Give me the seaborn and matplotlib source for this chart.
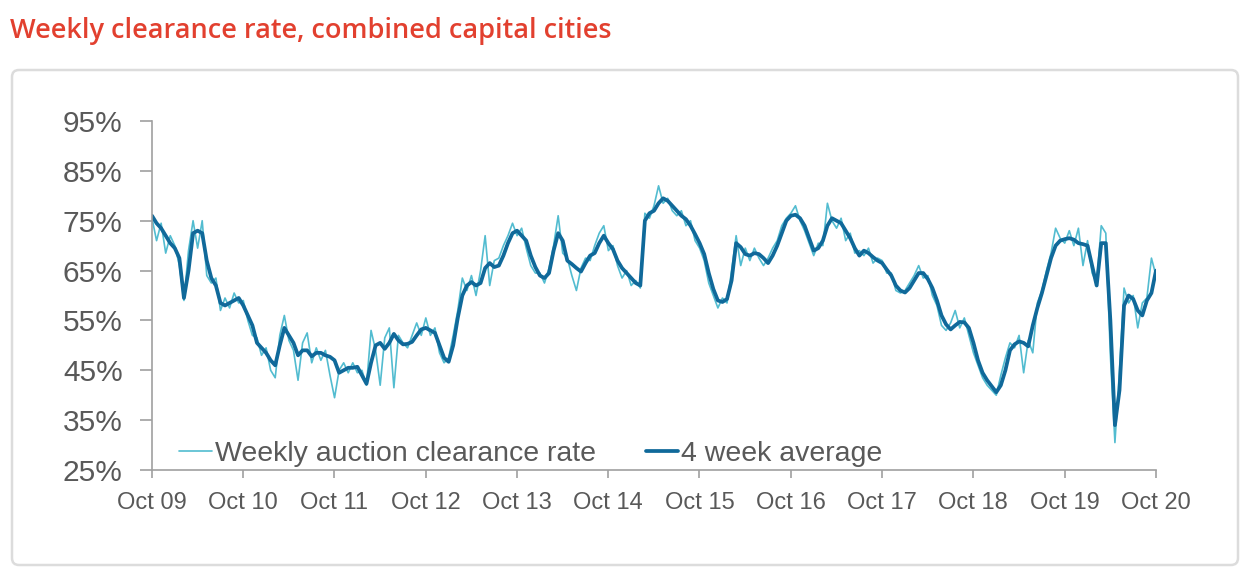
import matplotlib
matplotlib.use("Agg")
import matplotlib.pyplot as plt
import matplotlib.patches as mpatches
import matplotlib.transforms as mtransforms
import matplotlib.dates as mdates
import pandas as pd
import seaborn as sns

# Values, one point roughly every 18 days from Oct 2009 to Oct 2020
# (20 points per year, one line per year)
avg_rate = [
    76, 74.5, 73.5, 72, 70.5, 69.5, 67.5, 59.5, 65, 72.5, 73, 72.5, 67, 63.5, 62, 58.5, 58, 58.5, 59, 59.5,
    58, 56, 54, 50.5, 49.5, 48.5, 47, 46, 50, 53.5, 52, 50.5, 48, 49, 49, 47.8, 48.5, 48.5, 48, 47.7,
    47, 44.5, 45, 45.5, 45.5, 45.7, 44, 42.3, 46.5, 50, 50.5, 49.3, 50.5, 52.3, 51, 50.2, 50.3, 50.7, 52, 53.2,
    53.5, 53, 52.5, 50, 47.5, 46.7, 50, 55.5, 60, 62, 62.7, 62, 62.5, 65.5, 66.5, 65.7, 66, 68, 70.5, 72.5,
    73, 72, 71, 68, 65.7, 64, 63.5, 64.5, 69, 72.5, 71, 67, 66.3, 65.5, 64.8, 66.5, 68, 68.5, 70.5, 72,
    70.5, 69.3, 67, 65.5, 64.5, 63.5, 62.5, 62, 75, 76.5, 77, 78.5, 79.5, 79, 78, 77, 76, 75.3, 74, 72.3,
    70.5, 68.3, 64.5, 61.3, 59, 58.7, 59.3, 63, 70.5, 69.7, 68.3, 68, 68.5, 68.3, 67.5, 66.5, 68, 70, 72.5, 75,
    76, 76.2, 75.5, 74, 71.5, 69, 69.5, 71, 74, 75.5, 75, 74.5, 73, 71.5, 69.5, 68, 69, 68.5, 67.7, 67,
    66.5, 65.2, 64, 62, 61, 60.6, 61.5, 63, 64.5, 64.5, 63.3, 61.5, 59, 56, 54.2, 53.2, 54, 54.7, 54.6, 53.5,
    50.5, 47, 44.5, 43, 41.8, 40.6, 42, 45, 49, 50.2, 50.8, 50.5, 49.8, 54, 57.5, 60.5, 64, 67.5, 70, 71,
    71.3, 71.5, 71.2, 70.5, 70.3, 70, 66, 62, 70.5, 70.5, 55, 34, 41, 58, 60, 59.3, 57, 56, 59, 60.5,
    65,
]

weekly_rate = [
    75.5, 71, 74.5, 68.5, 72, 70, 66, 59, 69, 75, 69.5, 75, 64, 62.5, 63.5, 57, 59.5, 57.5, 60.5, 58.5,
    59, 55, 52, 51.5, 48, 49.5, 45, 43.5, 52, 56, 51, 49, 43, 50.5, 52.5, 46.5, 49.5, 47, 49, 44,
    39.5, 45, 46.5, 44.5, 46.5, 44.5, 45, 42, 53, 49, 42, 51.5, 53.5, 41.5, 52, 50.5, 49.5, 52, 54.5, 52,
    55.5, 52, 53.5, 48.5, 46.5, 47.5, 52, 57, 63.5, 61, 64, 60, 65, 72, 62, 67, 67.5, 70, 72, 74.5,
    72, 73.5, 69.5, 66, 64.5, 64.5, 62.5, 65.5, 70, 76, 68.5, 67.5, 64, 61, 65.5, 67.5, 67, 70, 72.5, 74,
    69, 70, 66, 63.5, 65, 62, 63, 61.5, 76.5, 75.5, 78, 82, 78.5, 79.5, 77, 76, 77, 74, 75, 71,
    69.5, 67, 62.5, 60, 57.5, 59.5, 58.5, 65, 72, 66, 69.5, 67, 69.5, 67.5, 66, 67.5, 69.5, 71, 74, 75.5,
    76.5, 78, 75, 73, 70.5, 68, 70.5, 70, 78.5, 75, 73.5, 75.5, 71, 72.5, 68.5, 69, 68, 69.5, 66.5, 67.5,
    67, 64.5, 64.5, 61, 60.5, 61, 62.5, 64, 66, 63.5, 64, 60, 58, 54, 53, 54.5, 57, 53.5, 55.5, 52,
    48.5, 46, 43.5, 42, 41, 40, 44, 47.5, 50.5, 49.5, 52, 44.5, 51, 48.5, 58.5, 61, 65, 68.5, 73.5, 71.5,
    70.5, 73, 70, 73.5, 66, 71, 64.5, 62.5, 74, 72.5, 48, 30.5, 45, 61.5, 58.5, 60, 53.5, 58.5, 59.5, 67.5,
    64,
]

dates = pd.date_range("2009-10-01", "2020-10-01", periods=len(avg_rate))
year_ticks = pd.date_range("2009-10-01", "2020-10-01", freq="12MS")
y_ticks = [25, 35, 45, 55, 65, 75, 85, 95]

df = pd.DataFrame({"date": dates, "weekly": weekly_rate, "avg": avg_rate})

sns.set_style("white")
plt.rcParams["font.family"] = ["Liberation Sans", "DejaVu Sans"]

fig = plt.figure(figsize=(12.57, 5.88), dpi=100)
ax = fig.add_axes([152 / 1257, 1 - 470 / 588, 1004 / 1257, 349 / 588])

sns.lineplot(data=df, x="date", y="weekly", ax=ax, color="#52bcd0", linewidth=1.2,
             label="Weekly auction clearance rate")
sns.lineplot(data=df, x="date", y="avg", ax=ax, color="#10699a", linewidth=2.7,
             label="4 week average")

ax.set_xlim(dates[0], dates[-1])
ax.set_ylim(25, 95)
ax.set_yticks(y_ticks)
ax.set_yticklabels([f"{v}%" for v in y_ticks])
ax.set_xticks(year_ticks)
ax.xaxis.set_major_formatter(mdates.DateFormatter("%b %y"))
ax.set_xlabel("")
ax.set_ylabel("")

for side in ["top", "right"]:
    ax.spines[side].set_visible(False)
for side in ["left", "bottom"]:
    ax.spines[side].set_color("#a0a0a0")
    ax.spines[side].set_linewidth(1.2)

ax.tick_params(axis="y", length=9, width=1.2, color="#a0a0a0", pad=12,
               labelsize=21.5, labelcolor="#595959")
ax.tick_params(axis="x", length=6, width=1.2, color="#a0a0a0", pad=10,
               labelsize=17, labelcolor="#595959", direction="out")
ax.tick_params(left=True, bottom=True)

ax.legend(loc="center left", bbox_to_anchor=(0.013, 0.045), ncol=2, frameon=False,
          fontsize=20.5, handlelength=1.15, handletextpad=0.1, columnspacing=1.75,
          borderpad=0, labelcolor="#595959")

# rounded card around the chart
card = mpatches.FancyBboxPatch((12, 588 - 565), 1226, 495,
                               boxstyle="round,pad=0,rounding_size=7",
                               transform=mtransforms.IdentityTransform(),
                               facecolor="none", edgecolor="#dcdcdc", linewidth=1.8)
fig.patches.append(card)

fig.text(10 / 1257, 1 - 31 / 588, "Weekly clearance rate, combined capital cities",
         family=["Open Sans", "DejaVu Sans"], fontsize=19.5, fontweight="semibold",
         color="#e2402f", ha="left", va="center")

fig.savefig("out.png", dpi=100)
